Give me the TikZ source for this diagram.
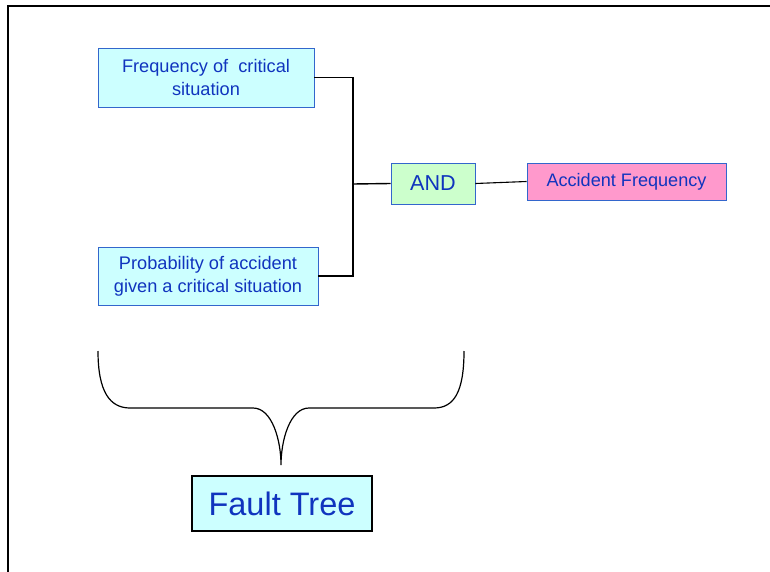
\documentclass[tikz,border=0pt]{standalone}
\usepackage{fontspec}
\setmainfont{Liberation Sans}
\definecolor{txtblue}{RGB}{16,52,190}
\definecolor{edgeblue}{RGB}{51,102,204}
\definecolor{lightcyan}{RGB}{204,255,255}
\definecolor{lightgreen}{RGB}{204,255,204}
\definecolor{pinkbox}{RGB}{255,153,204}
\begin{document}
\begin{tikzpicture}[x=1pt,y=-1pt,
  box/.style={draw=edgeblue,line width=0.9pt,text=txtblue,align=center,inner sep=0pt},
  wire/.style={line width=1.4pt,black}]
\useasboundingbox (0,0) rectangle (770,572);
\fill[white] (0,0) rectangle (770,572);
\draw[line width=2pt] (7.5,580) -- (7.5,6.5) -- (780,6.5);

\node[box,fill=lightcyan,minimum width=216pt,minimum height=59pt,
  font=\fontsize{18.2}{23}\selectfont] (b1) at (206,77.5) {Frequency of\ \ critical\\situation};
\node[box,fill=lightcyan,minimum width=220pt,minimum height=58pt,
  font=\fontsize{18.2}{23}\selectfont] (b2) at (208,276) {Probability of accident\\given a critical situation};
\node[box,fill=lightgreen,minimum width=84pt,minimum height=41pt,
  font=\fontsize{21.6}{24}\selectfont] (and) at (433,183.5) {AND};
\node[box,fill=pinkbox,minimum width=199pt,minimum height=37pt,
  font=\fontsize{18.1}{22}\selectfont] (acc) at (626.5,181.5) {Accident Frequency};
\node[draw=black,line width=1.4pt,fill=lightcyan,text=txtblue,minimum width=180pt,minimum height=55pt,inner sep=0pt,
  font=\fontsize{32.5}{36}\selectfont] (ft) at (282,503.5) {Fault Tree};

\coordinate (J) at (353,184);
\draw[wire] (b1.east) -| (J);
\draw[wire] (b2.east) -| (J);
\draw[wire] (J) -- (and.west);
\draw[line width=1.1pt] (and.east) -- (acc.west);

\coordinate (tip) at (281,465);
\coordinate (bl) at (98,351);
\coordinate (br) at (464,351);
\draw[line width=1.2pt] (bl) .. controls (98,392) and (110,408) .. (130,408)
  -- (253,408) .. controls (272,408) and (281,440) .. (tip)
  .. controls (281,440) and (290,408) .. (309,408)
  -- (434,408) .. controls (454,408) and (464,392) .. (br);
\end{tikzpicture}
\end{document}
